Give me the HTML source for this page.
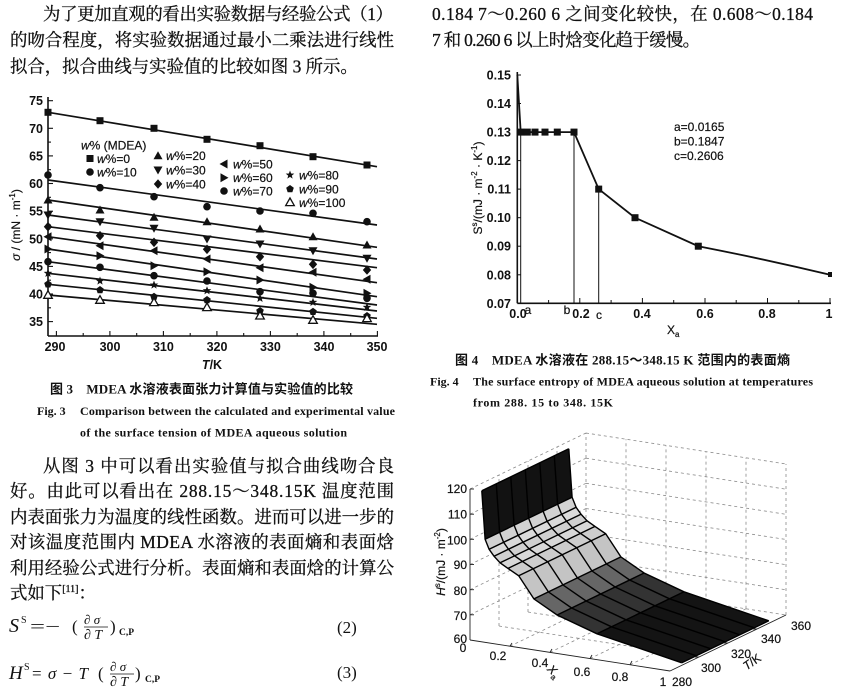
<!DOCTYPE html>
<html><head><meta charset="utf-8"><style>
html,body{margin:0;padding:0;background:#fff;}
svg{display:block;}
.bd{font-family:"Liberation Serif","Noto Serif CJK SC",serif;font-size:17.4px;fill:#111;stroke:#111;stroke-width:0.3px;}
.cz{font-family:"Liberation Serif","Noto Sans CJK SC",sans-serif;font-size:13px;font-weight:bold;fill:#111;}
.ce{font-family:"Liberation Serif",serif;font-size:12px;font-weight:bold;fill:#111;}
.tk{font-family:"Liberation Sans",sans-serif;font-size:12.5px;font-weight:bold;fill:#111;}
.lg{font-family:"Liberation Sans",sans-serif;font-size:12px;fill:#111;stroke:#111;stroke-width:0.2px;}
.t3{font-family:"Liberation Sans",sans-serif;font-size:12px;fill:#111;stroke:#111;stroke-width:0.2px;}
.eq{font-family:"Liberation Serif",serif;fill:#111;}
</style></head><body>
<svg width="865" height="695" viewBox="0 0 865 695" xmlns="http://www.w3.org/2000/svg">
<defs>
<rect id="m0" x="-3.5" y="-3.5" width="7" height="7"/>
<circle id="m1" r="3.8"/>
<polygon id="m2" points="0,-4.5 4.5,3.5 -4.5,3.5"/>
<polygon id="m3" points="0,4.5 4.5,-3.5 -4.5,-3.5"/>
<polygon id="m4" points="0,-4.8 4.2,0 0,4.8 -4.2,0"/>
<polygon id="m5" points="-4.5,0 3.5,-4.5 3.5,4.5"/>
<polygon id="m6" points="4.5,0 -3.5,-4.5 -3.5,4.5"/>
<polygon id="m8" points="0,-4.5 1.12,-1.54 4.28,-1.39 1.81,0.59 2.65,3.64 0,1.9 -2.65,3.64 -1.81,0.59 -4.28,-1.39 -1.12,-1.54"/>
<polygon id="m9" points="0,-4 3.8,-1.24 2.35,3.24 -2.35,3.24 -3.8,-1.24"/>
<polygon id="m10" points="0,-4.3 4.3,3.3 -4.3,3.3" fill="#fff" stroke="#111" stroke-width="1.3"/>
<rect id="sq" x="-3.5" y="-3.5" width="7" height="7"/>
<polyline id="fe" points="481.8,490.8 485.1,539.2 489.1,549.3 494.0,556.2 500.1,562.8 508.0,568.4 518.7,575.8 533.9,598.9 557.1,615.0 597.0,633.8 681.8,662.8" fill="none" stroke="#000" stroke-width="1.4"/>
</defs>

<!-- ===== top text ===== -->
<text class="bd" x="43" y="20" textLength="350" lengthAdjust="spacing">为了更加直观的看出实验数据与经验公式（1）</text>
<text class="bd" x="10" y="46" textLength="384" lengthAdjust="spacing">的吻合程度，将实验数据通过最小二乘法进行线性</text>
<text class="bd" x="10" y="72.5">拟合，拟合曲线与实验值的比较如图 3 所示。</text>
<text class="bd" x="432" y="20" textLength="381" lengthAdjust="spacing">0.184 7～0.260 6 之间变化较快，在 0.608～0.184</text>
<text class="bd" x="432" y="46" textLength="268" lengthAdjust="spacing">7 和 0.260 6 以上时焓变化趋于缓慢。</text>

<!-- ===== Fig 3 chart ===== -->
<g stroke="#111" stroke-width="1.6" fill="none">
<line x1="48" y1="97" x2="48" y2="336"/>
<line x1="48" y1="336" x2="378" y2="336"/>
</g>
<g stroke="#111" stroke-width="1.1">
<line x1="48" y1="100.7" x2="53" y2="100.7"/><line x1="48" y1="128.3" x2="53" y2="128.3"/><line x1="48" y1="155.9" x2="53" y2="155.9"/><line x1="48" y1="183.5" x2="53" y2="183.5"/><line x1="48" y1="211.2" x2="53" y2="211.2"/><line x1="48" y1="238.8" x2="53" y2="238.8"/><line x1="48" y1="266.4" x2="53" y2="266.4"/><line x1="48" y1="294" x2="53" y2="294"/><line x1="48" y1="321.6" x2="53" y2="321.6"/>
<line x1="48" y1="114.5" x2="51" y2="114.5"/><line x1="48" y1="142.1" x2="51" y2="142.1"/><line x1="48" y1="169.7" x2="51" y2="169.7"/><line x1="48" y1="197.3" x2="51" y2="197.3"/><line x1="48" y1="225" x2="51" y2="225"/><line x1="48" y1="252.6" x2="51" y2="252.6"/><line x1="48" y1="280.2" x2="51" y2="280.2"/><line x1="48" y1="307.8" x2="51" y2="307.8"/>
<line x1="56.4" y1="336" x2="56.4" y2="331"/><line x1="109.9" y1="336" x2="109.9" y2="331"/><line x1="163.4" y1="336" x2="163.4" y2="331"/><line x1="216.9" y1="336" x2="216.9" y2="331"/><line x1="270.4" y1="336" x2="270.4" y2="331"/><line x1="323.9" y1="336" x2="323.9" y2="331"/><line x1="377.4" y1="336" x2="377.4" y2="331"/>
<line x1="83.2" y1="336" x2="83.2" y2="333"/><line x1="136.7" y1="336" x2="136.7" y2="333"/><line x1="190.2" y1="336" x2="190.2" y2="333"/><line x1="243.7" y1="336" x2="243.7" y2="333"/><line x1="297.2" y1="336" x2="297.2" y2="333"/><line x1="350.7" y1="336" x2="350.7" y2="333"/>
</g>
<g class="tk" text-anchor="end">
<text x="43" y="105.2">75</text><text x="43" y="132.8">70</text><text x="43" y="160.4">65</text><text x="43" y="188">60</text><text x="43" y="215.7">55</text><text x="43" y="243.3">50</text><text x="43" y="270.9">45</text><text x="43" y="298.5">40</text><text x="43" y="326.1">35</text>
</g>
<g class="tk" text-anchor="middle">
<text x="55" y="351">290</text><text x="110" y="351">300</text><text x="163.4" y="351">310</text><text x="217" y="351">320</text><text x="270.4" y="351">330</text><text x="324" y="351">340</text><text x="377" y="351">350</text>
</g>
<text class="tk" x="212" y="369" text-anchor="middle"><tspan font-style="italic">T</tspan>/K</text>
<text class="lg" x="16" y="229" text-anchor="middle" transform="rotate(-90 16 225)"><tspan font-style="italic">σ</tspan> / (mN · m<tspan dy="-5" font-size="8">-1</tspan><tspan dy="5">)</tspan></text>

<g stroke="#111" stroke-width="1.7" fill="none">
<line x1="48" y1="112.3" x2="377" y2="166.7"/>
<line x1="48" y1="180" x2="377" y2="225"/>
<line x1="48" y1="200" x2="377" y2="247.3"/>
<line x1="48" y1="215" x2="377" y2="259"/>
<line x1="48" y1="226.7" x2="377" y2="267.7"/>
<line x1="48" y1="236.7" x2="377" y2="282.7"/>
<line x1="48" y1="249" x2="377" y2="296.7"/>
<line x1="48" y1="261.7" x2="377" y2="305"/>
<line x1="48" y1="273.3" x2="377" y2="311"/>
<line x1="48" y1="284.3" x2="377" y2="318.3"/>
<line x1="48" y1="295" x2="377" y2="324.3"/>
</g>
<g fill="#111">
<use href="#m0" x="48" y="112.3"/><use href="#m0" x="100" y="120.7"/><use href="#m0" x="154" y="128.3"/><use href="#m0" x="207" y="139.3"/><use href="#m0" x="260" y="145.7"/><use href="#m0" x="313" y="156.7"/><use href="#m0" x="367" y="165"/>
<use href="#m1" x="48" y="175"/><use href="#m1" x="100" y="187.7"/><use href="#m1" x="154" y="196.7"/><use href="#m1" x="207" y="206.7"/><use href="#m1" x="260" y="211"/><use href="#m1" x="313" y="213.3"/><use href="#m1" x="367" y="221.7"/>
<use href="#m2" x="48" y="200"/><use href="#m2" x="100" y="210"/><use href="#m2" x="154" y="217.3"/><use href="#m2" x="207" y="221.7"/><use href="#m2" x="260" y="229"/><use href="#m2" x="313" y="236.7"/><use href="#m2" x="367" y="245"/>
<use href="#m3" x="48" y="215"/><use href="#m3" x="100" y="221.7"/><use href="#m3" x="154" y="228.3"/><use href="#m3" x="207" y="239"/><use href="#m3" x="260" y="244"/><use href="#m3" x="313" y="250.7"/><use href="#m3" x="367" y="258.3"/>
<use href="#m4" x="48" y="226.7"/><use href="#m4" x="100" y="235.7"/><use href="#m4" x="154" y="242.3"/><use href="#m4" x="207" y="249.3"/><use href="#m4" x="260" y="256.7"/><use href="#m4" x="313" y="264.3"/><use href="#m4" x="367" y="270"/>
<use href="#m5" x="48" y="236.7"/><use href="#m5" x="100" y="245.7"/><use href="#m5" x="154" y="250.7"/><use href="#m5" x="207" y="259"/><use href="#m5" x="260" y="267.7"/><use href="#m5" x="313" y="272.3"/><use href="#m5" x="367" y="279.3"/>
<use href="#m6" x="48" y="249"/><use href="#m6" x="100" y="255.7"/><use href="#m6" x="154" y="265.7"/><use href="#m6" x="207" y="271.7"/><use href="#m6" x="260" y="280"/><use href="#m6" x="313" y="287.3"/><use href="#m6" x="367" y="293.3"/>
<use href="#m1" x="48" y="261.7"/><use href="#m1" x="100" y="267.3"/><use href="#m1" x="154" y="275.7"/><use href="#m1" x="207" y="281"/><use href="#m1" x="260" y="291.7"/><use href="#m1" x="313" y="293.3"/><use href="#m1" x="367" y="298.3"/>
<use href="#m8" x="48" y="273.3"/><use href="#m8" x="100" y="281"/><use href="#m8" x="154" y="285"/><use href="#m8" x="207" y="290.7"/><use href="#m8" x="260" y="298.3"/><use href="#m8" x="313" y="302.3"/><use href="#m8" x="367" y="307.3"/>
<use href="#m9" x="48" y="284.3"/><use href="#m9" x="100" y="290"/><use href="#m9" x="154" y="296.7"/><use href="#m9" x="207" y="300"/><use href="#m9" x="260" y="311"/><use href="#m9" x="313" y="311.7"/><use href="#m9" x="367" y="316"/>
<use href="#m10" x="48" y="295"/><use href="#m10" x="100" y="300"/><use href="#m10" x="154" y="302.3"/><use href="#m10" x="207" y="307.3"/><use href="#m10" x="260" y="315.7"/><use href="#m10" x="313" y="320"/><use href="#m10" x="367" y="318.3"/>
</g>
<!-- legend -->
<text class="lg" x="81" y="149.5"><tspan font-style="italic">w</tspan>% (MDEA)</text>
<g fill="#111">
<use href="#m0" x="90" y="158.5"/><use href="#m1" x="90" y="172"/>
<use href="#m2" x="158" y="155.7"/><use href="#m3" x="158" y="170"/><use href="#m4" x="158" y="184"/>
<use href="#m5" x="224" y="164"/><use href="#m6" x="224" y="177.7"/><use href="#m1" x="224" y="191"/>
<use href="#m8" x="290" y="175"/><use href="#m9" x="290" y="189"/><use href="#m10" x="290" y="202.3"/>
</g>
<g class="lg">
<text x="97" y="163"><tspan font-style="italic">w</tspan>%=0</text>
<text x="97" y="176.5"><tspan font-style="italic">w</tspan>%=10</text>
<text x="166" y="160.2"><tspan font-style="italic">w</tspan>%=20</text>
<text x="166" y="174.5"><tspan font-style="italic">w</tspan>%=30</text>
<text x="166" y="188.5"><tspan font-style="italic">w</tspan>%=40</text>
<text x="233" y="168.5"><tspan font-style="italic">w</tspan>%=50</text>
<text x="233" y="182.2"><tspan font-style="italic">w</tspan>%=60</text>
<text x="233" y="195.5"><tspan font-style="italic">w</tspan>%=70</text>
<text x="299" y="179.5"><tspan font-style="italic">w</tspan>%=80</text>
<text x="299" y="193.5"><tspan font-style="italic">w</tspan>%=90</text>
<text x="299" y="206.8"><tspan font-style="italic">w</tspan>%=100</text>
</g>

<!-- Fig 3 captions -->
<text class="cz" x="50" y="393.5" textLength="303" lengthAdjust="spacing">图 3　MDEA 水溶液表面张力计算值与实验值的比较</text>
<text class="ce" x="37" y="415">Fig. 3</text>
<text class="ce" x="80" y="415" textLength="315" lengthAdjust="spacing">Comparison between the calculated and experimental value</text>
<text class="ce" x="80" y="436.5" textLength="267" lengthAdjust="spacing">of the surface tension of MDEA aqueous solution</text>

<!-- body text -->
<text class="bd" x="43" y="472" textLength="351" lengthAdjust="spacing">从图 3 中可以看出实验值与拟合曲线吻合良</text>
<text class="bd" x="10" y="497" textLength="384" lengthAdjust="spacing">好。由此可以看出在 288.15～348.15K 温度范围</text>
<text class="bd" x="10" y="523" textLength="384" lengthAdjust="spacing">内表面张力为温度的线性函数。进而可以进一步的</text>
<text class="bd" x="10" y="548" textLength="384" lengthAdjust="spacing">对该温度范围内 MDEA 水溶液的表面熵和表面焓</text>
<text class="bd" x="10" y="574" textLength="384" lengthAdjust="spacing">利用经验公式进行分析。表面熵和表面焓的计算公</text>
<text class="bd" x="10" y="599">式如下<tspan font-size="10" dy="-7">[11]</tspan><tspan dy="7">：</tspan></text>

<!-- equations -->
<g class="eq">
<text x="9" y="632" font-size="20" font-style="italic">S</text>
<text x="21" y="623" font-size="10">S</text>
<text x="30" y="632" font-size="17" textLength="30" lengthAdjust="spacingAndGlyphs">=−</text>
<text x="72" y="632" font-size="17">(</text>
<text x="84" y="624" font-size="13"><tspan>∂</tspan> <tspan font-style="italic">σ</tspan></text>
<line x1="84" y1="627" x2="108" y2="627" stroke="#111" stroke-width="0.8"/>
<text x="84" y="639" font-size="14"><tspan>∂</tspan> <tspan font-style="italic">T</tspan></text>
<text x="110" y="632" font-size="17">)</text>
<text x="119" y="635" font-size="9.5" font-weight="bold">C,P</text>
<text x="337" y="633" font-size="17">(2)</text>

<text x="9" y="679" font-size="19" font-style="italic">H</text>
<text x="24" y="670" font-size="10">S</text>
<text x="32" y="679" font-size="17" textLength="56" lengthAdjust="spacing">=<tspan font-style="italic">σ</tspan>−<tspan font-style="italic">T</tspan></text>
<text x="98" y="679" font-size="17">(</text>
<text x="110" y="671" font-size="13"><tspan>∂</tspan> <tspan font-style="italic">σ</tspan></text>
<line x1="110" y1="674" x2="134" y2="674" stroke="#111" stroke-width="0.8"/>
<text x="110" y="686" font-size="14"><tspan>∂</tspan> <tspan font-style="italic">T</tspan></text>
<text x="135" y="679" font-size="17">)</text>
<text x="145" y="682" font-size="9.5" font-weight="bold">C,P</text>
<text x="337" y="678" font-size="17">(3)</text>
</g>

<!-- ===== Fig 4 chart ===== -->
<g stroke="#111" stroke-width="1.6" fill="none">
<line x1="517.3" y1="72" x2="517.3" y2="303.3"/>
<line x1="517.3" y1="303.3" x2="831" y2="303.3"/>
</g>
<g stroke="#111" stroke-width="1">
<line x1="517.3" y1="75" x2="521" y2="75"/><line x1="517.3" y1="103.5" x2="521" y2="103.5"/><line x1="517.3" y1="132.1" x2="521" y2="132.1"/><line x1="517.3" y1="160.6" x2="521" y2="160.6"/><line x1="517.3" y1="189.1" x2="521" y2="189.1"/><line x1="517.3" y1="217.7" x2="521" y2="217.7"/><line x1="517.3" y1="246.2" x2="521" y2="246.2"/><line x1="517.3" y1="274.8" x2="521" y2="274.8"/>
<line x1="579.8" y1="303.3" x2="579.8" y2="298"/><line x1="642.4" y1="303.3" x2="642.4" y2="298"/><line x1="705" y1="303.3" x2="705" y2="298"/><line x1="767.5" y1="303.3" x2="767.5" y2="298"/><line x1="830" y1="303.3" x2="830" y2="298"/>
<line x1="548.6" y1="303.3" x2="548.6" y2="300"/><line x1="611.1" y1="303.3" x2="611.1" y2="300"/><line x1="673.7" y1="303.3" x2="673.7" y2="300"/><line x1="736.2" y1="303.3" x2="736.2" y2="300"/><line x1="798.8" y1="303.3" x2="798.8" y2="300"/>
</g>
<g class="tk" text-anchor="end">
<text x="511" y="79.5">0.15</text><text x="511" y="108">0.14</text><text x="511" y="136.6">0.13</text><text x="511" y="165.1">0.12</text><text x="511" y="193.6">0.11</text><text x="511" y="222.2">0.10</text><text x="511" y="250.7">0.09</text><text x="511" y="279.3">0.08</text><text x="511" y="307.8">0.07</text>
</g>
<g class="tk" text-anchor="middle">
<text x="518" y="318">0.0</text><text x="581" y="318">0.2</text><text x="642" y="318">0.4</text><text x="705" y="318">0.6</text><text x="767" y="318">0.8</text><text x="829" y="318">1</text>
</g>
<g class="lg" text-anchor="middle">
<text x="528" y="314">a</text><text x="567" y="314">b</text><text x="599" y="319">c</text>
</g>
<g stroke="#111" stroke-width="1" fill="none">
<line x1="520.7" y1="132.1" x2="520.7" y2="303.3"/>
<line x1="574" y1="132.1" x2="574" y2="303.3"/>
<line x1="598.7" y1="189.1" x2="598.7" y2="303.3"/>
</g>
<path d="M517.3,75 L520.7,132.1 L574,132.1 L598.7,189.1 L635,217.7 L698.3,246.2 Q764,259 830,274.8" fill="none" stroke="#111" stroke-width="1.8"/>
<g fill="#111">
<use href="#sq" x="520.7" y="132.1"/><use href="#sq" x="527.3" y="132.1"/><use href="#sq" x="535" y="132.1"/><use href="#sq" x="545" y="132.1"/><use href="#sq" x="557.3" y="132.1"/><use href="#sq" x="574" y="132.1"/><use href="#sq" x="598.7" y="189.1"/><use href="#sq" x="635" y="217.7"/><use href="#sq" x="698.3" y="246.2"/>
<rect x="828" y="272" width="4" height="5"/>
</g>
<g class="lg">
<text x="674" y="131">a=0.0165</text>
<text x="674" y="145.5">b=0.1847</text>
<text x="674" y="160">c=0.2606</text>
</g>
<text class="lg" x="478" y="192" text-anchor="middle" transform="rotate(-90 478 188)">S<tspan dy="-5" font-size="8">s</tspan><tspan dy="5">/(mJ · m</tspan><tspan dy="-5" font-size="8">-2</tspan><tspan dy="5"> · K</tspan><tspan dy="-5" font-size="8">-1</tspan><tspan dy="5">)</tspan></text>
<text class="lg" x="667" y="334">X<tspan dy="3" font-size="8">a</tspan></text>

<!-- Fig 4 captions -->
<text class="cz" x="455" y="364.5" textLength="335" lengthAdjust="spacing">图 4　MDEA 水溶液在 288.15～348.15 K 范围内的表面熵</text>
<text class="ce" x="430" y="385.5">Fig. 4</text>
<text class="ce" x="473" y="385.5" textLength="340" lengthAdjust="spacing">The surface entropy of MDEA aqueous solution at temperatures</text>
<text class="ce" x="473" y="406.5" textLength="140" lengthAdjust="spacing">from 288. 15 to 348. 15K</text>

<!-- ===== 3D chart ===== -->
<g stroke="#8a8a8a" stroke-width="0.8" stroke-dasharray="3,3" fill="none">
<line x1="470" y1="614.8" x2="586" y2="558.8"/><line x1="470" y1="589.7" x2="586" y2="533.7"/><line x1="470" y1="564.5" x2="586" y2="508.5"/><line x1="470" y1="539.3" x2="586" y2="483.3"/><line x1="470" y1="514.2" x2="586" y2="458.2"/><line x1="470" y1="489" x2="586" y2="433"/>
<line x1="586" y1="558.8" x2="786" y2="589.8"/><line x1="586" y1="533.7" x2="786" y2="564.7"/><line x1="586" y1="508.5" x2="786" y2="539.5"/><line x1="586" y1="483.3" x2="786" y2="514.3"/><line x1="586" y1="458.2" x2="786" y2="489.2"/><line x1="586" y1="433" x2="786" y2="464"/>
<line x1="499" y1="626" x2="499" y2="475"/><line x1="528" y1="612" x2="528" y2="461"/><line x1="557" y1="598" x2="557" y2="447"/><line x1="586" y1="584" x2="586" y2="433"/>
<line x1="626" y1="590.2" x2="626" y2="439.2"/><line x1="666" y1="596.4" x2="666" y2="445.4"/><line x1="706" y1="602.6" x2="706" y2="451.6"/><line x1="746" y1="608.8" x2="746" y2="457.8"/><line x1="786" y1="615" x2="786" y2="464"/>
<line x1="510" y1="646.2" x2="626" y2="590.2"/><line x1="550" y1="652.4" x2="666" y2="596.4"/><line x1="590" y1="658.6" x2="706" y2="602.6"/><line x1="630" y1="664.8" x2="746" y2="608.8"/>
<line x1="499" y1="626" x2="699" y2="657"/><line x1="528" y1="612" x2="728" y2="643"/><line x1="557" y1="598" x2="757" y2="629"/><line x1="586" y1="584" x2="786" y2="615"/>
</g>
<g stroke="none">
<polygon points="481.8,490.8 485.1,539.2 572.1,497.2 568.8,448.8" fill="#121212"/>
<polygon points="485.1,539.2 489.1,549.3 576.1,507.3 572.1,497.2" fill="#d2d2d2"/>
<polygon points="489.1,549.3 494.0,556.2 581.0,514.2 576.1,507.3" fill="#dadada"/>
<polygon points="494.0,556.2 500.1,562.8 587.1,520.8 581.0,514.2" fill="#d0d0d0"/>
<polygon points="500.1,562.8 508.0,568.4 595.0,526.4 587.1,520.8" fill="#d8d8d8"/>
<polygon points="508.0,568.4 518.7,575.8 605.7,533.8 595.0,526.4" fill="#cdcdcd"/>
<polygon points="518.7,575.8 533.9,598.9 620.9,556.9 605.7,533.8" fill="#c4c4c4"/>
<polygon points="533.9,598.9 557.1,615.0 644.1,573.0 620.9,556.9" fill="#666"/>
<polygon points="557.1,615.0 597.0,633.8 684.0,591.8 644.1,573.0" fill="#333"/>
<polygon points="597.0,633.8 681.8,662.8 768.8,620.8 684.0,591.8" fill="#141414"/>
</g>
<use href="#fe"/>
<use href="#fe" transform="translate(14.5,-7)"/>
<use href="#fe" transform="translate(29,-14)"/>
<use href="#fe" transform="translate(43.5,-21)"/>
<use href="#fe" transform="translate(58,-28)"/>
<use href="#fe" transform="translate(72.5,-35)"/>
<use href="#fe" transform="translate(87,-42)"/>
<g stroke="#000" stroke-width="1.4">
<line x1="485.1" y1="539.2" x2="572.1" y2="497.2"/>
<line x1="489.1" y1="549.3" x2="576.1" y2="507.3"/>
<line x1="494.0" y1="556.2" x2="581.0" y2="514.2"/>
<line x1="500.1" y1="562.8" x2="587.1" y2="520.8"/>
<line x1="508.0" y1="568.4" x2="595.0" y2="526.4"/>
<line x1="518.7" y1="575.8" x2="605.7" y2="533.8"/>
<line x1="533.9" y1="598.9" x2="620.9" y2="556.9"/>
<line x1="557.1" y1="615.0" x2="644.1" y2="573.0"/>
<line x1="597.0" y1="633.8" x2="684.0" y2="591.8"/>
<line x1="681.8" y1="662.8" x2="768.8" y2="620.8"/>
<line x1="481.8" y1="490.8" x2="568.8" y2="448.8"/>
</g>
<g stroke="#222" stroke-width="0.9" fill="none">
<line x1="470" y1="640" x2="470" y2="489"/>
<line x1="470" y1="640" x2="670" y2="671"/>
<line x1="670" y1="671" x2="786" y2="615"/>
<line x1="470" y1="489" x2="474" y2="489"/><line x1="470" y1="514.2" x2="474" y2="514.2"/><line x1="470" y1="539.3" x2="474" y2="539.3"/><line x1="470" y1="564.5" x2="474" y2="564.5"/><line x1="470" y1="589.7" x2="474" y2="589.7"/><line x1="470" y1="614.8" x2="474" y2="614.8"/>
<line x1="510" y1="646.2" x2="512" y2="643"/><line x1="550" y1="652.4" x2="552" y2="649"/><line x1="590" y1="658.6" x2="592" y2="655"/><line x1="630" y1="664.8" x2="632" y2="661"/>
<line x1="699" y1="657" x2="695" y2="657"/><line x1="728" y1="643" x2="724" y2="643"/><line x1="757" y1="629" x2="753" y2="629"/>
</g>
<g class="t3" text-anchor="end">
<text x="467" y="493">120</text><text x="467" y="518.5">110</text><text x="467" y="544.5">100</text><text x="467" y="569">90</text><text x="467" y="595">80</text><text x="467" y="620">70</text><text x="467" y="643">60</text>
</g>
<g class="t3" text-anchor="middle">
<text x="463" y="652">0</text>
<text x="498" y="660">0.2</text><text x="540" y="667">0.4</text><text x="582" y="676">0.6</text><text x="620" y="681">0.8</text><text x="663" y="686">1</text>
<text x="682" y="686">280</text><text x="711" y="672">300</text><text x="741" y="658">320</text><text x="771" y="643">340</text><text x="801" y="630">360</text>
</g>
<text class="t3" x="752" y="666" text-anchor="middle" transform="rotate(-35 752 662)"><tspan font-style="italic">T</tspan>/K</text>
<text class="t3" x="553" y="675" text-anchor="middle" transform="rotate(45 553 672)"><tspan font-style="italic">X</tspan><tspan dy="3" font-size="8">a</tspan></text>
<text class="t3" x="441" y="566" text-anchor="middle" transform="rotate(-90 441 562)"><tspan font-style="italic">H</tspan><tspan dy="-5" font-size="8">s</tspan><tspan dy="5">/(mJ · m</tspan><tspan dy="-5" font-size="8">-2</tspan><tspan dy="5">)</tspan></text>
</svg>
</body></html>
